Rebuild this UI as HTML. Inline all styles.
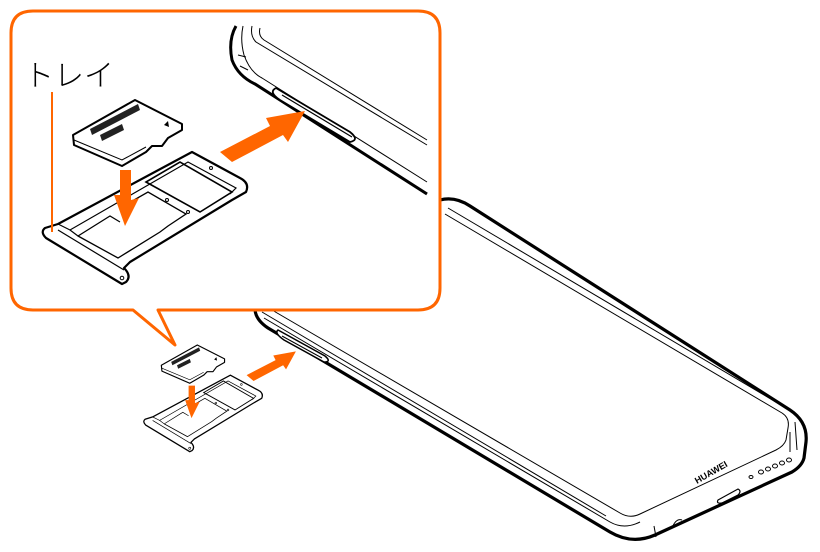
<!DOCTYPE html>
<html><head><meta charset="utf-8"><style>
html,body{margin:0;padding:0;background:#fff;width:820px;height:552px;overflow:hidden}
</style></head><body>
<svg width="820" height="552" viewBox="0 0 820 552" xmlns="http://www.w3.org/2000/svg">
<defs>
<g id="trayset">
  <path d="M45,228 L58,224 L192,152 L240,178 Q250,183 246,192 L232,200 L130,262 L124,268 Q132,276 126,282 L122,284 L46,238 Q40,232 45,228 Z" fill="#fff" stroke="#000" stroke-width="2.2" stroke-linejoin="round"/>
  <path d="M58,230 L124,270" fill="none" stroke="#000" stroke-width="1.2"/>
  <path d="M58,224 L70,230 L188,162 L236,188 L230,194" fill="none" stroke="#000" stroke-width="1.2"/>
  <path d="M70,230 L78,236 L110,216 L120,222" fill="none" stroke="#000" stroke-width="1.2"/>
  <path d="M78,236 L118,258 L160,232 L168,226 L186,214 L148,192 L120,208" fill="none" stroke="#000" stroke-width="1.3"/>
  <path d="M146,182 L200,212 L232,192 L180,162 Z" fill="none" stroke="#000" stroke-width="1.6"/>
  <circle cx="188" cy="212" r="1.5" fill="none" stroke="#000"/>
  <circle cx="167" cy="200" r="1.5" fill="none" stroke="#000"/>
  <circle cx="211" cy="168" r="1.5" fill="none" stroke="#000"/>
  <circle cx="122" cy="278" r="1.8" fill="none" stroke="#000"/>
  <path d="M73,135 L135,100 L182,124 L182,130 L168,138 L162,146 L152,146 L146,152 L122,166 L74,145 Z" fill="#fff" stroke="#000" stroke-width="2" stroke-linejoin="round"/>
  <path d="M74,140 L122,160 L146,147" fill="none" stroke="#000" stroke-width="1"/>
  <path d="M90,129 L138,104 L140,110 L92,135 Z" fill="#222"/>
  <path d="M100,135 L122,124 L124,130 L102,141 Z" fill="#222"/>
  <path d="M164,125 L168,121 L169,127 Z" fill="#000"/>
  <path d="M120,170 L131,170 L131,200 L139,198 L125,226 L114,195 L120,195 Z" fill="#ff6600"/>
  <path d="M220,152 L270,126 L266,118 L305,111 L288,142 L283,135 L232,162 Z" fill="#ff6600"/>
</g>
</defs>

<path d="M440,200 Q455,196 470,206 L790,410 Q808,422 806,442 L804,458 Q802,466 792,472 L655,535 Q632,545 610,532 L268,328 Q256,320 255,310" fill="none" stroke="#000" stroke-width="3.2" stroke-linejoin="round"/>
<path d="M445,214 L782,413 Q790,418 788,428 L786,440 Q784,446 776,450 L640,514 Q630,519 620,513 L272,310" fill="none" stroke="#000" stroke-width="1"/>
<path d="M448,208 L786,408" fill="none" stroke="#000" stroke-width="1"/>
<path d="M264,318 L610,522 Q624,530 640,522" fill="none" stroke="#000" stroke-width="1"/>
<path d="M262,312 L606,516" fill="none" stroke="#000" stroke-width="1"/>
<path d="M795,422 L797,450 M654,526 L656,537 M790,432 L790,452" fill="none" stroke="#000" stroke-width="1"/>
<text x="0" y="0" font-family="Liberation Sans, sans-serif" font-size="9" font-weight="bold" transform="translate(697,484) rotate(-30)" fill="#000">HUAWEI</text>
<path d="M718,500 L738,489 Q742,491 738,495 L722,503 Q716,504 718,500 Z" fill="none" stroke="#000" stroke-width="1.2"/>
<g fill="none" stroke="#000" stroke-width="1">
<ellipse cx="751" cy="477" rx="2" ry="1.5"/>
<ellipse cx="761" cy="472" rx="2.5" ry="2"/>
<ellipse cx="768" cy="469" rx="2.5" ry="2"/>
<ellipse cx="775" cy="466" rx="2.5" ry="2"/>
<ellipse cx="782" cy="463" rx="2.5" ry="2"/>
<ellipse cx="789" cy="460" rx="2.5" ry="2"/>
<path d="M672,528 Q676,518 682,520"/>
</g>
<path d="M278,330 L325,356 Q332,362 324,362 L284,340 Q274,333 278,330 Z" fill="#fff" stroke="#000" stroke-width="1.5"/>
<path d="M282,336 L322,358" stroke="#000" stroke-width="1"/>

<use href="#trayset" transform="translate(119,287) scale(0.58)"/>

<path d="M33,11 L418,11 Q440,11 440,33 L440,288 Q440,310 418,310 L158,310 L175,345 L133,310 L33,310 Q11,310 11,288 L11,33 Q11,11 33,11 Z" fill="#fff" stroke="#ff6600" stroke-width="3" stroke-linejoin="round"/>

<path d="M236,26 Q228,40 232,60 Q238,76 255,84 L427,194" fill="none" stroke="#000" stroke-width="3"/>
<path d="M243,26 Q240,40 244,55 Q250,72 262,78 L427,182" fill="none" stroke="#000" stroke-width="1"/>
<path d="M252,26 Q250,36 256,42 L427,145 M260,28 Q258,36 264,40 L427,140" fill="none" stroke="#000" stroke-width="1"/>
<path d="M238,55 L246,57 M240,66 L248,70" fill="none" stroke="#000" stroke-width="1"/>
<path d="M276,88 L350,132 Q360,140 350,142 L280,100 Q268,92 276,88 Z" fill="#fff" stroke="#000" stroke-width="1.8"/>
<path d="M282,95 L352,137" stroke="#000" stroke-width="1.2"/>

<use href="#trayset"/>

<text x="24" y="86" font-family="Liberation Sans, 'Noto Sans CJK JP', sans-serif" font-size="30" font-weight="300" fill="#000">トレイ</text>
<line x1="52" y1="92" x2="52" y2="232" stroke="#ff6600" stroke-width="2"/>
</svg>
</body></html>
